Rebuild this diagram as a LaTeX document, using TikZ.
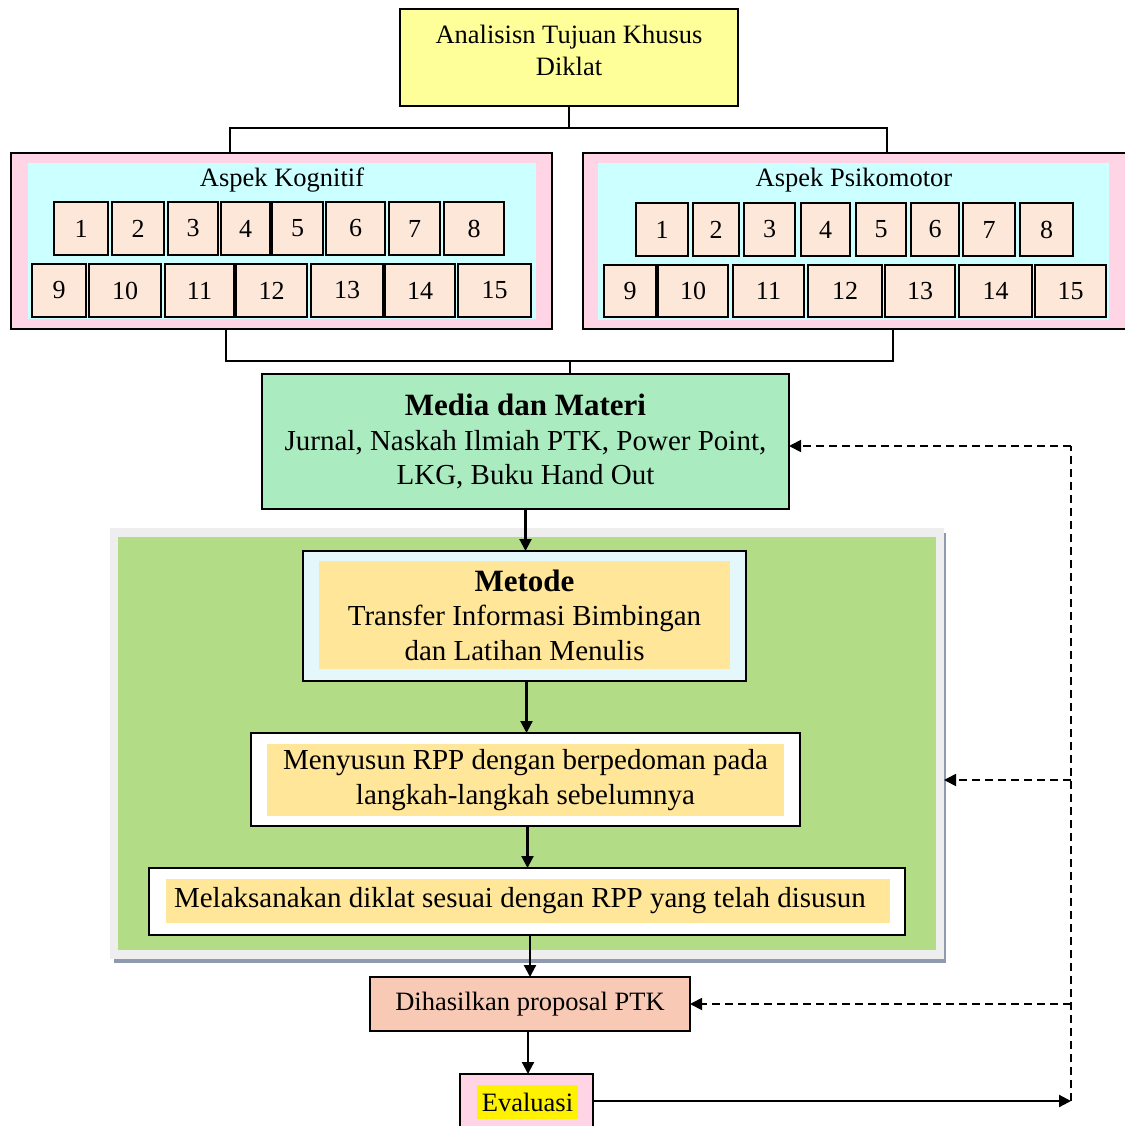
\documentclass[tikz,border=0pt]{standalone}
\usepackage{fontspec}
\setmainfont{Liberation Serif}
\usetikzlibrary{arrows.meta}
\definecolor{topY}{HTML}{FFFF99}
\definecolor{pinkO}{HTML}{FFD5E6}
\definecolor{cyanI}{HTML}{CCFFFF}
\definecolor{peach}{HTML}{FCE7D8}
\definecolor{mint}{HTML}{ABEBC0}
\definecolor{grpG}{HTML}{B3DC87}
\definecolor{frameG}{HTML}{EEEEEE}
\definecolor{shadowG}{HTML}{8E9AAD}
\definecolor{lcyan}{HTML}{E4F7FB}
\definecolor{softY}{HTML}{FFE699}
\definecolor{salmon}{HTML}{F8CAB6}
\newcommand\rbox[7]{\node[#6, minimum width={(#4)-(#2)}, minimum height={(#5)-(#3)}] (#1) at ({((#2)+(#4))/2},{((#3)+(#5))/2}) {#7};}
\begin{document}
\begin{tikzpicture}[x=1pt,y=-1pt,
  every node/.style={inner sep=0pt, outer sep=0pt, align=center},
  bx/.style={draw=black, line width=2.1pt, align=center},
  numbox/.style={draw=black, line width=2.1pt, fill=peach, font=\fontsize{26}{31}\selectfont},
  fsmall/.style={font=\fontsize{26.5}{32}\selectfont},
  fbig/.style={font=\fontsize{29}{34.5}\selectfont},
  conn/.style={line width=2.1pt},
  arr/.style={line width=2.2pt, -{Triangle[length=12pt,width=12pt]}},
  darr/.style={line width=1.8pt, dash pattern=on 8pt off 5pt, -{Triangle[length=12pt,width=12pt]}},
  dln/.style={line width=1.8pt, dash pattern=on 8pt off 5pt}]
\useasboundingbox (0,0) rectangle (1124,1126);
\fill[white] (0,0) rectangle (1124,1126);

% top box
\rbox{top}{400}{9}{738}{106}{bx, fill=topY}{}
\node[fsmall] (topt) at (569,50) {Analisisn Tujuan Khusus\\Diklat};

% aspect boxes
\rbox{kog}{11}{153}{552}{329}{bx, fill=pinkO}{}
\rbox{kogin}{28}{163}{536}{319}{fill=cyanI}{}
\node[fsmall] (kogt) at (282,180) {Aspek Kognitif};
\rbox{psi}{583}{153}{1140}{329}{bx, fill=pinkO}{}
\rbox{psiin}{598}{163}{1109}{320}{fill=cyanI}{}
\node[fsmall] (psit) at (854,180) {Aspek Psikomotor};

\foreach \n/\a/\b in {1/54/108,2/112/164,3/168/218,4/221/270,5/272/323,6/326/385,7/389/440,8/444/504}
  {\rbox{k\n}{\a}{202}{\b}{255}{numbox}{\n}}
\foreach \n/\a/\b in {9/32/86,10/89/161,11/165/234,12/236/307,13/311/383,14/385/455,15/458/531}
  {\rbox{k\n}{\a}{264}{\b}{317}{numbox}{\n}}
\foreach \n/\a/\b in {1/636/688,2/693/739,3/744/795,4/801/850,5/856/906,6/911/959,7/963/1015,8/1020/1073}
  {\rbox{p\n}{\a}{203}{\b}{256}{numbox}{\n}}
\foreach \n/\a/\b in {9/604/656,10/658/728,11/733/804,12/808/882,13/885/955,14/959/1032,15/1035/1106}
  {\rbox{p\n}{\a}{265}{\b}{317}{numbox}{\n}}

% connectors top
\coordinate (jt) at (569,128);
\coordinate (kt) at (230,153);
\coordinate (pt) at (887,153);
\draw[conn] (top.south) -- (jt);
\draw[conn] (kt) |- (jt) -| (pt);

% media
\rbox{media}{262}{374}{789}{509}{bx, fill=mint, fbig}{{\fontsize{31}{34.5}\selectfont\bfseries Media dan Materi}\\Jurnal, Naskah Ilmiah PTK, Power Point,\\LKG, Buku Hand Out}

\coordinate (kb) at (226,329);
\coordinate (pb) at (893,329);
\coordinate (jb) at (570,361);
\draw[conn] (kb) |- (jb) -| (pb);
\draw[conn] (jb) -- (jb |- media.north);

% group
\fill[shadowG] (114,533) rectangle (946,963);
\rbox{grp}{110}{528}{944}{959}{fill=frameG}{}
\fill[grpG] (118,537) rectangle (936,950);

% metode
\rbox{metode}{303}{551}{746}{681}{bx, fill=lcyan}{}
\rbox{metodein}{319}{561}{730}{669}{fill=softY, fbig}{{\fontsize{31}{34.5}\selectfont\bfseries Metode}\\Transfer Informasi Bimbingan\\dan Latihan Menulis}

% rpp
\rbox{rpp}{251}{733}{800}{826}{bx, fill=white}{}
\rbox{rppin}{267}{744}{784}{816}{fill=softY, fbig}{Menyusun RPP dengan berpedoman pada\\langkah-langkah sebelumnya}

% melaksanakan
\rbox{mel}{149}{868}{905}{935}{bx, fill=white}{}
\rbox{melin}{166}{879}{890}{923}{fill=softY}{}
\node[fbig] (melt) at (520,901) {Melaksanakan diklat sesuai dengan RPP yang telah disusun};

% dihasilkan
\rbox{dih}{370}{977}{690}{1031}{bx, fill=salmon, fsmall}{Dihasilkan proposal PTK}

% evaluasi
\rbox{eval}{460}{1074}{593}{1128}{bx, fill=pinkO}{}
\rbox{evalin}{477}{1085}{578}{1119}{fill=yellow, fsmall}{Evaluasi}

% arrows
\draw[arr] (media.south) -- (media.south |- metode.north);
\draw[arr] (metode.south) ++(2,0) coordinate (m1) -- (m1 |- rpp.north);
\draw[arr] (rpp.south) ++(2,0) coordinate (r1) -- (r1 |- mel.north);
\draw[arr] (dih.north |- mel.south) -- (dih.north);
\draw[arr] (dih.south) ++(-2,0) coordinate (d1) -- (d1 |- eval.north);

% feedback
\coordinate (dTop) at (1071,446);
\coordinate (dMid) at (1071,780);
\coordinate (dLow) at (1071,1004);
\coordinate (dEnd) at (1071,1101);
\draw[arr] (eval.east) -- (dEnd);
\draw[dln] (dEnd) -- (dTop);
\draw[darr] (dTop) -- (media.east |- dTop);
\draw[darr] (dMid) -- (grp.east |- dMid);
\draw[darr] (dLow) -- (dih.east);
\end{tikzpicture}
\end{document}
